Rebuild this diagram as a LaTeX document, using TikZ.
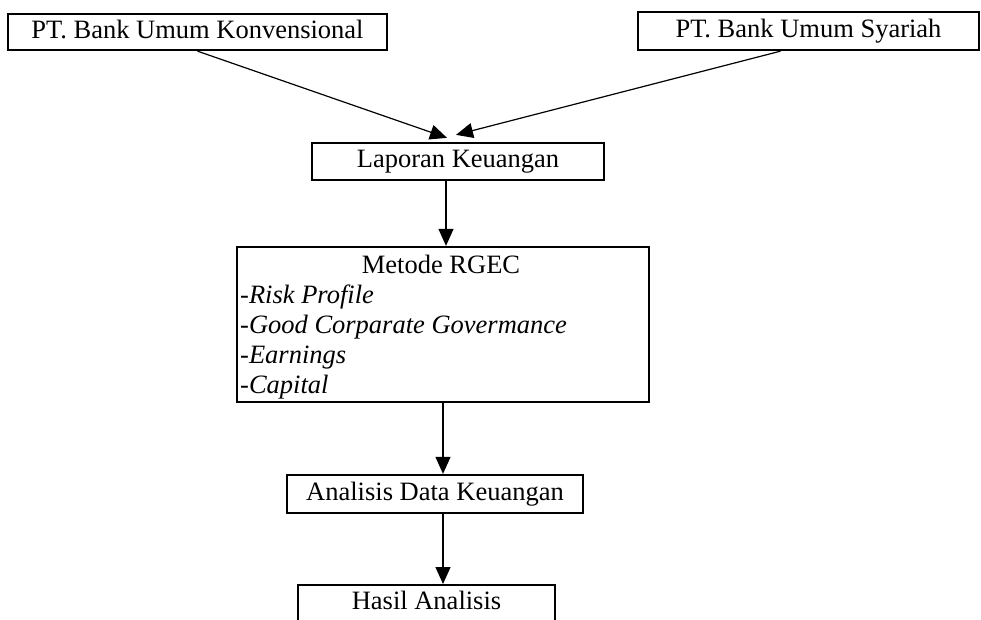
\documentclass[tikz,border=0pt]{standalone}
\usepackage{fontspec}
\setmainfont{Liberation Serif}
\usetikzlibrary{arrows.meta}
\begin{document}
\begin{tikzpicture}[x=1pt,y=-1pt,
 box/.style={draw, line width=2.3pt, inner sep=0pt, font=\fontsize{26.5}{30}\selectfont, text height=18.5pt, text depth=5.8pt},
 arr/.style={line width=1.2pt, -{Triangle[length=17pt,width=15pt]}},
 txt/.style={inner sep=0pt, font=\fontsize{26.5}{30}\selectfont}]
\useasboundingbox (0,0) rectangle (981,619);
\clip (0,0) rectangle (981,619);
\node[box, minimum width=379pt, minimum height=36pt] (k1) at (197.5,32) {PT. Bank Umum Konvensional};
\node[box, minimum width=341pt, minimum height=38pt] (s1) at (808.5,31) {PT. Bank Umum Syariah};
\node[box, minimum width=292pt, minimum height=37pt] (lap) at (458,161.5) {Laporan Keuangan};
\node[box, minimum width=412pt, minimum height=155pt] (rgec) at (443,324.5) {};
\node[txt, anchor=base] (t0) at (441,273) {Metode RGEC};
\node[txt, anchor=base west] (t1) at (240,303) {-\textit{Risk Profile}};
\node[txt, anchor=base west] (t2) at (240,333) {-\textit{Good Corparate Govermance}};
\node[txt, anchor=base west] (t3) at (240,363) {-\textit{Earnings}};
\node[txt, anchor=base west] (t4) at (240,393) {-\textit{Capital}};
\node[box, minimum width=296pt, minimum height=38pt] (adk) at (435,494) {Analisis Data Keuangan};
\node[box, minimum width=257pt, minimum height=36pt, anchor=north] (hasil) at (426.5,584) {Hasil Analisis};
\draw[arr] (k1.south) -- ([xshift=-11pt,yshift=4pt]lap.north);
\draw[arr] ([xshift=-28pt]s1.south) -- ([xshift=-2pt,yshift=7pt]lap.north);
\draw[arr] ([xshift=-12pt]lap.south) -- ([xshift=-12pt]lap.south |- rgec.north);
\draw[arr] (rgec.south) -- (rgec.south |- adk.north);
\draw[arr] (adk.south -| rgec.south) -- (rgec.south |- hasil.north);
\end{tikzpicture}
\end{document}
